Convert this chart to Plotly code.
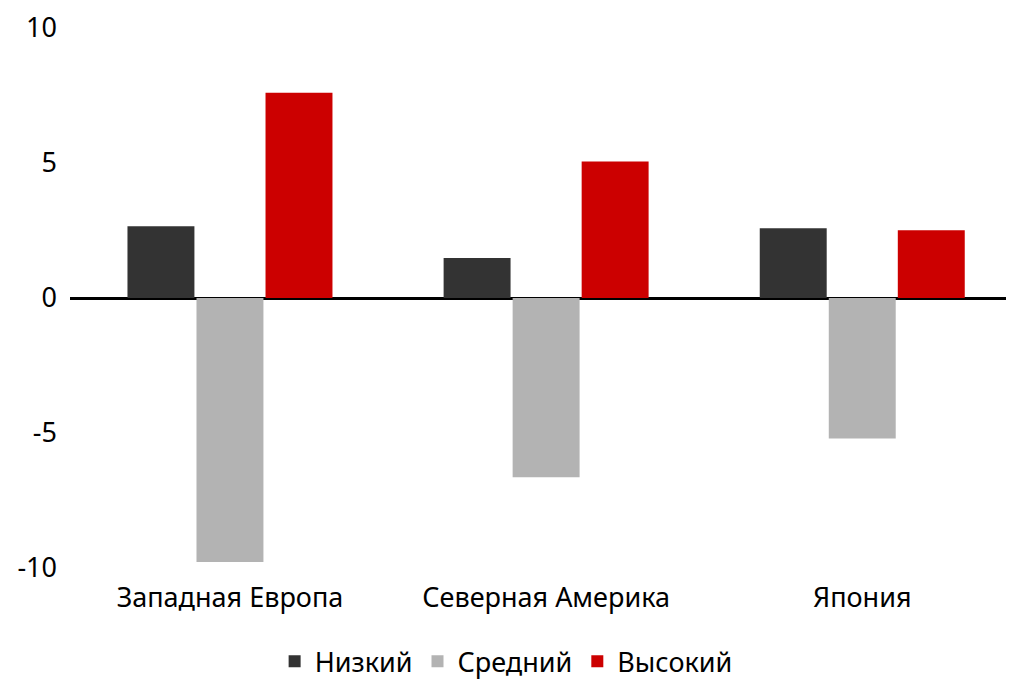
import plotly.graph_objects as go

categories = ["Западная Европа", "Северная Америка", "Япония"]
series_names = ["Низкий", "Средний", "Высокий"]
low = [2.66, 1.48, 2.58]
mid = [-9.78, -6.64, -5.2]
high = [7.6, 5.06, 2.51]
colors = ["#333333", "#b3b3b3", "#cc0000"]
y_ticks = [-10, -5, 0, 5, 10]
y_ticktext = ["-10", "-5", "0", "5", "10"]

FONT = "Noto Sans"

fig = go.Figure()
for name, vals, col in zip(series_names, [low, mid, high], colors):
    fig.add_trace(go.Bar(x=categories, y=vals, name=name, marker=dict(color=col, line=dict(width=0))))

fig.update_layout(
    width=1006, height=674,
    paper_bgcolor="white", plot_bgcolor="white",
    barmode="group", bargap=0.345, bargroupgap=0.03,
    margin=dict(l=62, r=0, t=20, b=114, autoexpand=False),
    font=dict(family=FONT, size=27, color="#000000"),
    showlegend=True,
    legend=dict(orientation="h", x=0.462, xanchor="center", y=-0.128, yanchor="top",
                font=dict(size=27), traceorder="normal"),
    xaxis=dict(showgrid=False, showline=False, zeroline=False, ticks="",
               range=[-0.506, 2.48], ticklabelstandoff=11, tickfont=dict(size=27)),
    yaxis=dict(range=[-10, 10], tickvals=y_ticks, ticktext=y_ticktext, showgrid=False, showline=False,
               zeroline=True, zerolinecolor="#000000", zerolinewidth=3,
               ticks="", ticklabelstandoff=12, ticklabeloverflow="allow",
               tickfont=dict(size=27)),
)

fig.write_html("out.html")
